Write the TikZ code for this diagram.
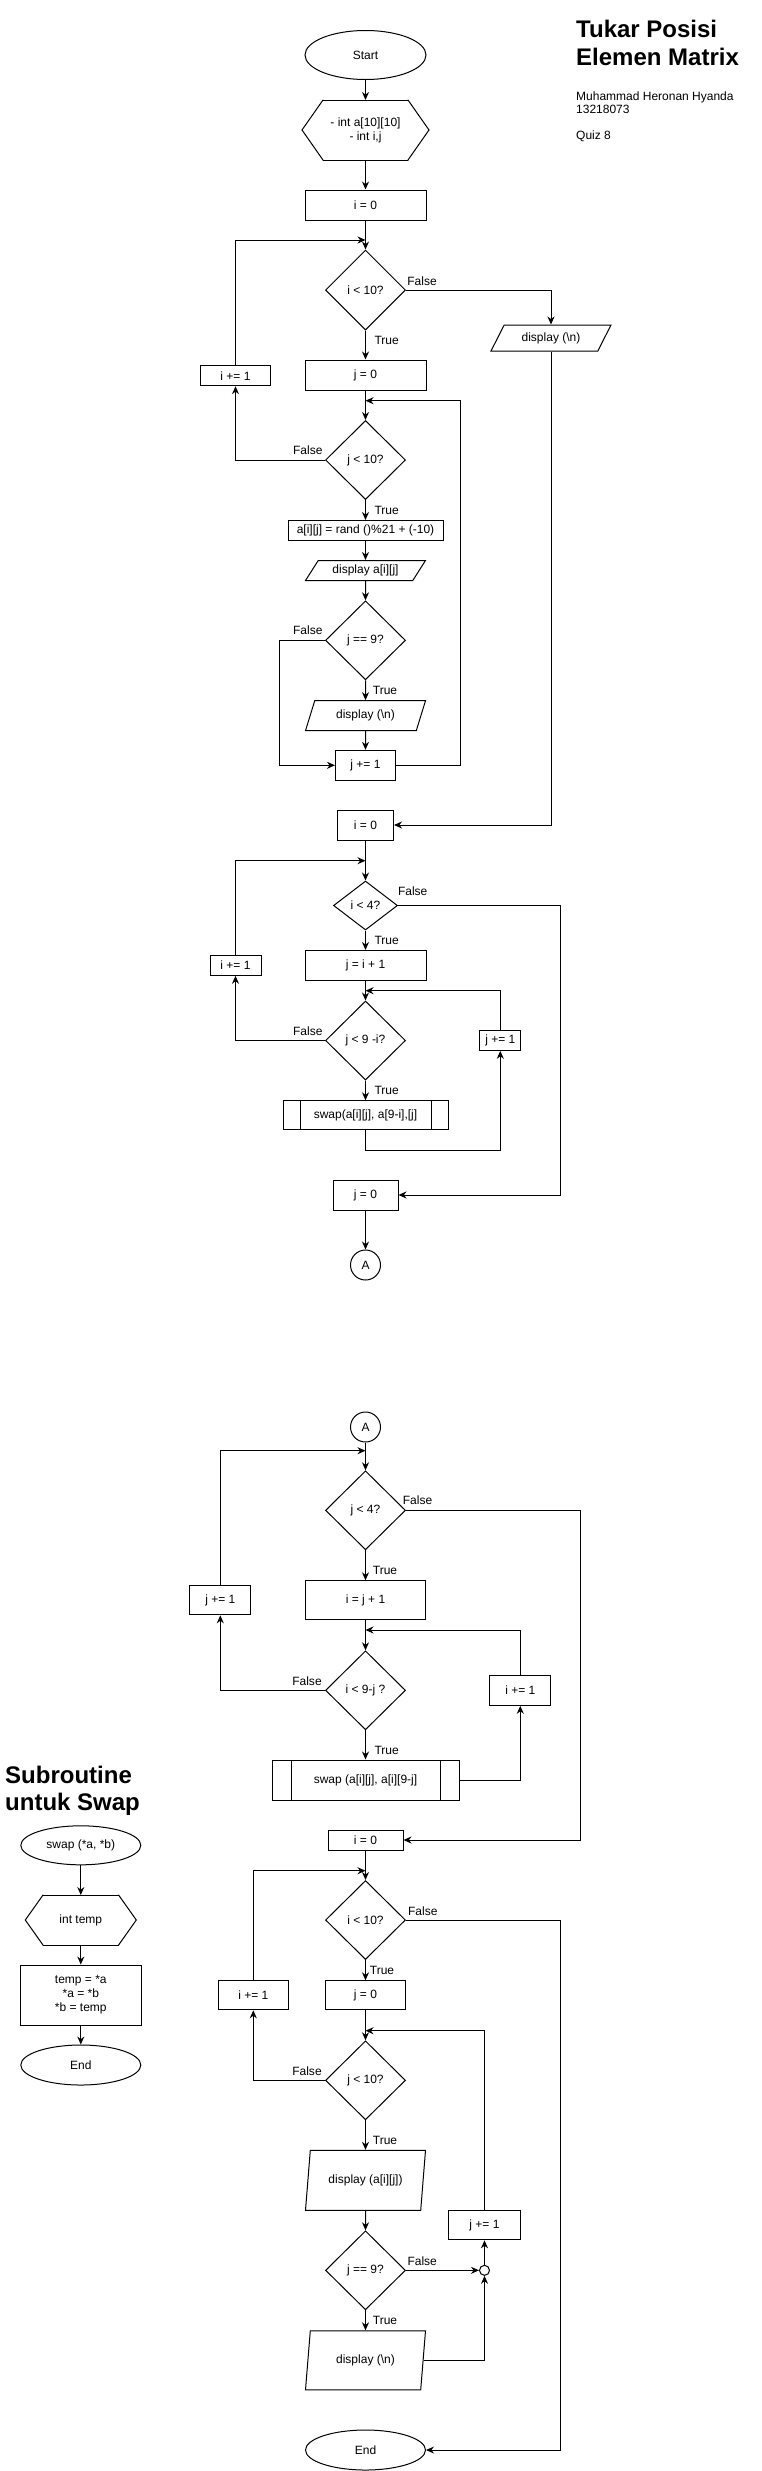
\documentclass[tikz,border=0pt]{standalone}
\usepackage{fontspec}
\setmainfont{Liberation Sans}
\usetikzlibrary{arrows.meta,positioning,shapes.geometric}
\tikzset{
	>={Stealth[length=8pt,width=7pt]},
	base/.style={draw, line width=1pt, fill=white, inner sep=1pt, align=center, font=\fontsize{12}{14}\selectfont},
	sz/.style 2 args={minimum width=#1, minimum height=#2},
	term/.style={base, ellipse},
	proc/.style={base, rectangle},
	decision/.style={base, diamond, inner sep=0pt, aspect=1},
	hexline/.style={-, line width=1pt, line cap=round},
	prep/.style={base, draw=none, outer sep=0pt, append after command={\pgfextra{\let\hexnode\tikzlastnode}
		(\hexnode.west) edge[hexline] ([xshift=#1]\hexnode.north west)
		([xshift=#1]\hexnode.north west) edge[hexline] ([xshift=-#1]\hexnode.north east)
		([xshift=-#1]\hexnode.north east) edge[hexline] (\hexnode.east)
		(\hexnode.east) edge[hexline] ([xshift=-#1]\hexnode.south east)
		([xshift=-#1]\hexnode.south east) edge[hexline] ([xshift=#1]\hexnode.south west)
		([xshift=#1]\hexnode.south west) edge[hexline] (\hexnode.west)}},
	io/.style={base, trapezium, trapezium left angle=#1, trapezium right angle=180-#1, trapezium stretches body},
	subproc/.style={base, rectangle, path picture={
		\draw[line width=1pt] ([xshift=#1]path picture bounding box.north west) -- ([xshift=#1]path picture bounding box.south west)
			([xshift=-#1]path picture bounding box.north east) -- ([xshift=-#1]path picture bounding box.south east);}},
	conn/.style={base, circle, inner sep=0pt, minimum size=#1},
	lbl/.style={inner sep=0pt, font=\fontsize{12}{14}\selectfont},
}

\begin{document}
\begin{tikzpicture}[x=1pt, y=-1pt]
	\useasboundingbox (0,0) rectangle (762,2471);

	\node[anchor=north west, inner sep=0pt, align=left, font=\bfseries\fontsize{24}{28}\selectfont] (ttl) at (576,20.2) {Tukar Posisi\\Elemen Matrix};
	\node[anchor=north west, inner sep=0pt, align=left, font=\fontsize{12}{13}\selectfont] (auth) at (576,91.2) {Muhammad Heronan Hyanda\\13218073\\[13pt]Quiz 8};

	\node[term, sz={121}{49}] (start) at (365.5,55) {Start};
	\node[prep=21, sz={127}{60}] (decl) at (365.5,130) {- int a[10][10]\\- int i,j};
	\node[proc, sz={121}{30}] (i0a) at (365.5,205) {i = 0};
	\coordinate (ja1) at (365.5,240);
	\node[decision, sz={80}{80}] (ci10a) at (365.5,290) {i < 10?};
	\node[io=45, sz={120}{26}] (dispn1) at (551,338) {display (\textbackslash n)};
	\node[proc, sz={121}{30}] (j0a) at (365.5,375) {j = 0};
	\node[proc, sz={70}{20}] (ip1a) at (235.5,375.7) {i += 1};
	\coordinate (ja2) at (365.5,400.7);
	\node[decision, sz={80}{79}] (cj10a) at (365.5,460) {j < 10?};
	\node[proc, sz={155}{20}] (rnd) at (365.5,530.5) {a[i][j] = rand ()\%21 + (-10)};
	\node[io=46, sz={120}{20}] (dispa) at (365.5,570.5) {display a[i][j]};
	\node[decision, sz={80}{79}] (cj9a) at (365.5,640.3) {j == 9?};
	\node[io=55, sz={120}{30}] (dispn2) at (365.5,715.7) {display (\textbackslash n)};
	\node[proc, sz={60}{30}] (jp1a) at (365.5,765.3) {j += 1};
	\node[proc, sz={56}{30}] (i0b) at (365.5,825) {i = 0};

	\coordinate (jb1) at (365.5,860.7);
	\node[decision, sz={64}{49}] (ci4) at (365.5,905.5) {i < 4?};
	\node[proc, sz={121}{30}] (jip1) at (365.5,965.5) {j = i + 1};
	\node[proc, sz={51}{20}] (ip1b) at (235.5,965.3) {i += 1};
	\coordinate (jb2) at (365.5,990.7);
	\node[decision, sz={80}{79}] (cj9i) at (365.5,1040.5) {j < 9 -i?};
	\node[proc, sz={41}{20}] (jp1b) at (500.3,1040.3) {j += 1};
	\node[subproc=17, sz={165}{29}] (swap1) at (365.5,1115.3) {swap(a[i][j], a[9-i],[j]};
	\node[proc, sz={65}{30}] (j0b) at (365.5,1195) {j = 0};
	\node[conn=30] (conA1) at (365.5,1265) {A};

	\node[conn=30] (conA2) at (365.5,1427) {A};
	\coordinate (jc1) at (365.5,1450.7);
	\node[decision, sz={80}{79}] (cj4) at (365.5,1510.3) {j < 4?};
	\node[proc, sz={120}{39}] (ijp1) at (365.5,1600.3) {i = j + 1};
	\node[proc, sz={61}{29}] (jp1c) at (220.3,1600.3) {j += 1};
	\coordinate (jc2) at (365.5,1630);
	\node[decision, sz={80}{79}] (ci9j) at (365.5,1690.3) {i < 9-j ?};
	\node[proc, sz={61}{30}] (ip1c) at (520.3,1690.3) {i += 1};
	\node[subproc=19, sz={187}{40}] (swap2) at (365.5,1780) {swap (a[i][j], a[i][9-j]};
	\node[proc, sz={75}{20}] (i0c) at (365.5,1840) {i = 0};

	\coordinate (jd1) at (365.5,1870.7);
	\node[decision, sz={80}{79}] (ci10b) at (365.5,1920) {i < 10?};
	\node[proc, sz={80}{29}] (j0c) at (365.5,1995.3) {j = 0};
	\node[proc, sz={70}{29}] (ip1d) at (253.3,1995.3) {i += 1};
	\coordinate (jd2) at (365.5,2030.7);
	\node[decision, sz={80}{79}] (cj10b) at (365.5,2080.3) {j < 10?};
	\node[io=70, sz={120}{60}] (dispa2) at (365.5,2180.3) {display (a[i][j])};
	\node[proc, sz={72}{29}] (jp1d) at (484.5,2225.3) {j += 1};
	\node[decision, sz={80}{79}] (cj9b) at (365.5,2270.3) {j == 9?};
	\node[conn=10] (mrg) at (484.5,2270.3) {};
	\node[io=70, sz={120}{59}] (dispn3) at (365.5,2360.3) {display (\textbackslash n)};
	\node[term, sz={120}{40}] (end1) at (365.5,2450) {End};

	\node[anchor=north west, inner sep=0pt, align=left, font=\bfseries\fontsize{24}{27}\selectfont] (subttl) at (5,1765.8) {Subroutine\\untuk Swap};
	\node[term, sz={120}{39}] (sw) at (80.8,1845.3) {swap (*a, *b)};
	\node[prep=17.7, sz={111}{50}] (tmp) at (80.8,1920) {int temp};
	\node[proc, sz={121}{60}] (asg) at (80.8,1995) {temp = *a\\{}*a = *b\\{}*b = temp};
	\node[term, sz={120}{40}] (end2) at (80.8,2065) {End};

	\node[lbl] (f1) at (422,281) {False};
	\node[lbl] (t1) at (386.7,340.7) {True};
	\node[lbl] (f2) at (307.8,450.7) {False};
	\node[lbl] (t2) at (386.7,510.7) {True};
	\node[lbl] (f3) at (307.8,630.7) {False};
	\node[lbl] (t3) at (385,690.7) {True};
	\node[lbl] (f4) at (412.7,890.7) {False};
	\node[lbl] (t4) at (386.7,940.7) {True};
	\node[lbl] (f5) at (307.8,1030.7) {False};
	\node[lbl] (t5) at (386.7,1090.7) {True};
	\node[lbl] (f6) at (417.5,1500) {False};
	\node[lbl] (t6) at (385,1570.7) {True};
	\node[lbl] (f7) at (307,1680.7) {False};
	\node[lbl] (t7) at (386.7,1750.7) {True};
	\node[lbl] (f8) at (422.8,1910.7) {False};
	\node[lbl] (t8) at (382,1970.7) {True};
	\node[lbl] (f9) at (307,2070.7) {False};
	\node[lbl] (t9) at (385,2140.7) {True};
	\node[lbl] (f10) at (422.2,2260.7) {False};
	\node[lbl] (t10) at (385,2320.7) {True};

	\begin{scope}[->, line width=1pt]
		\draw (start) -- (decl);
		\draw (decl) -- (i0a);
		\draw (i0a) -- (ci10a);
		\draw (ci10a.east) -| (dispn1.north);
		\draw (ci10a) -- (j0a);
		\draw (ip1a.north) |- (ja1);
		\draw (j0a) -- (cj10a);
		\draw (cj10a.west) -| (ip1a.south);
		\draw (cj10a) -- (rnd);
		\draw (rnd) -- (dispa);
		\draw (dispa) -- (cj9a);
		\draw (cj9a) -- (dispn2);
		\draw (cj9a.west) -- ++(-45.5,0) |- (jp1a.west);
		\draw (dispn2) -- (jp1a);
		\draw (jp1a.east) -- ++(64.5,0) |- (ja2);
		\draw (dispn1.south) |- (i0b.east);

		\draw (i0b) -- (ci4);
		\draw (ip1b.north) |- (jb1);
		\draw (ci4.east) -- ++(162.5,0) |- (j0b.east);
		\draw (ci4) -- (jip1);
		\draw (jip1) -- (cj9i);
		\draw (jp1b.north) |- (jb2);
		\draw (cj9i.west) -| (ip1b.south);
		\draw (cj9i) -- (swap1);
		\draw (swap1.south) -- ++(0,20) -| (jp1b.south);
		\draw (j0b) -- (conA1);

		\draw (conA2) -- (cj4);
		\draw (jp1c.north) |- (jc1);
		\draw (cj4.east) -- ++(174.5,0) |- (i0c.east);
		\draw (cj4) -- (ijp1);
		\draw (ijp1) -- (ci9j);
		\draw (ip1c.north) |- (jc2);
		\draw (ci9j.west) -| (jp1c.south);
		\draw (ci9j) -- (swap2);
		\draw (swap2.east) -| (ip1c.south);

		\draw (i0c) -- (ci10b);
		\draw (ip1d.north) |- (jd1);
		\draw (ci10b.east) -- ++(154.5,0) |- (end1.east);
		\draw (ci10b) -- (j0c);
		\draw (j0c) -- (cj10b);
		\draw (jp1d.north) |- (jd2);
		\draw (cj10b.west) -| (ip1d.south);
		\draw (cj10b) -- (dispa2);
		\draw (dispa2) -- (cj9b);
		\draw (cj9b.east) -- (mrg.west);
		\draw (cj9b) -- (dispn3);
		\draw (dispn3.east) -| (mrg.south);
		\draw (mrg.north) -- (jp1d.south);

		\draw (sw) -- (tmp);
		\draw (tmp) -- (asg);
		\draw (asg) -- (end2);
	\end{scope}
\end{tikzpicture}
\end{document}
